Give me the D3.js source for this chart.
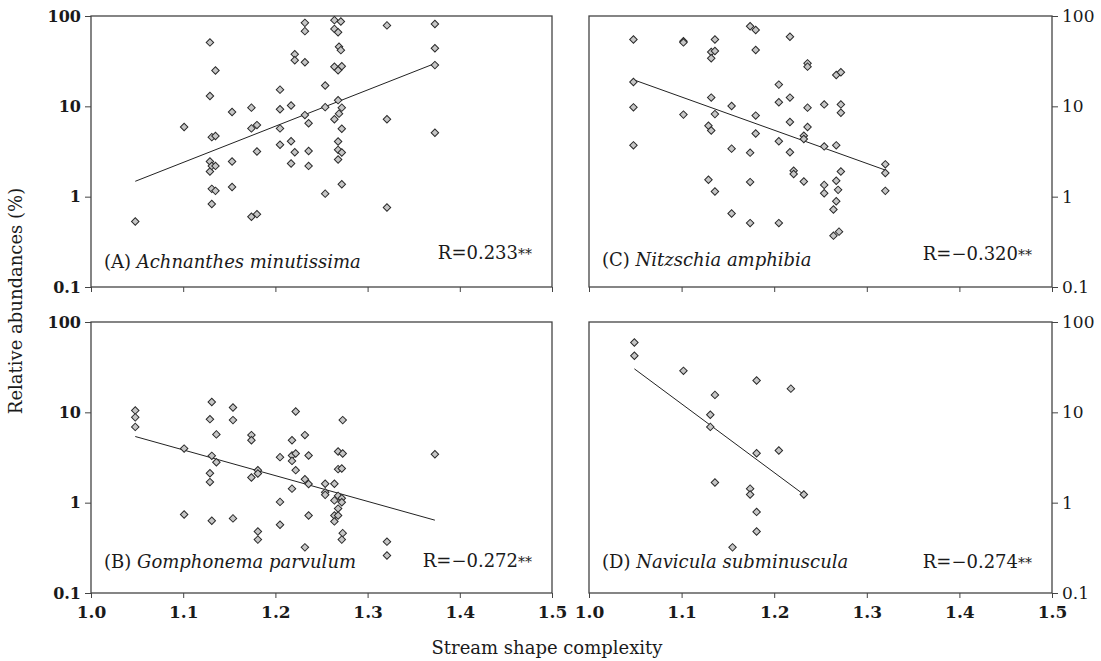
<!DOCTYPE html>
<html>
<head>
<meta charset="utf-8">
<script src="https://cdn.jsdelivr.net/npm/d3@7"></script>
<style>
  body { margin: 0; background: #fff; }
  svg text { font-family: "DejaVu Serif", serif; fill: #1a1a1a; }
  .tick line, .domain { stroke: #444; }
</style>
</head>
<body>
<div id="chart"></div>
<script>
////////////////////////////////////////////////////////////////////
////////////////////////////  Data  ////////////////////////////////

// [stream shape complexity, relative abundance %]
const ptsA = [[1.048,0.53],[1.101,5.9],[1.129,51],[1.135,24.9],[1.129,13.0],[1.131,4.56],[1.135,4.7],
  [1.129,2.45],[1.129,1.9],[1.131,2.19],[1.135,2.19],[1.131,1.22],[1.135,1.16],[1.131,0.83],
  [1.153,8.65],[1.153,2.45],[1.153,1.28],[1.174,9.67],[1.174,5.7],[1.180,6.2],[1.180,3.16],
  [1.174,0.6],[1.180,0.64],[1.205,15.3],[1.205,9.3],[1.205,5.7],[1.205,3.75],[1.217,10.2],
  [1.217,4.1],[1.221,37.8],[1.221,32.4],[1.221,3.1],[1.217,2.33],[1.232,84],[1.232,68],
  [1.232,30.8],[1.232,8.0],[1.236,6.5],[1.236,3.2],[1.236,2.19],[1.254,17],[1.254,9.8],
  [1.254,1.08],[1.264,90],[1.271,87],[1.264,72],[1.268,66],[1.269,45.6],[1.271,41.9],
  [1.264,27.4],[1.272,27.8],[1.268,25.1],[1.268,11.7],[1.272,9.67],[1.269,8.3],[1.264,7.2],
  [1.272,5.65],[1.268,4.08],[1.268,3.3],[1.272,3.08],[1.268,2.58],[1.272,1.37],[1.321,78.7],
  [1.321,7.2],[1.321,0.76],[1.373,81.5],[1.373,44],[1.373,28.6],[1.373,5.1]];

const ptsB = [[1.048,10.5],[1.048,8.8],[1.048,6.9],[1.101,3.97],[1.101,0.74],[1.131,13],[1.129,8.4],
  [1.136,5.7],[1.131,3.3],[1.136,2.8],[1.129,2.12],[1.129,1.69],[1.131,0.63],[1.154,11.3],
  [1.154,8.2],[1.154,0.67],[1.174,5.6],[1.174,4.9],[1.181,2.29],[1.181,2.1],[1.174,1.9],
  [1.181,0.48],[1.181,0.39],[1.205,3.19],[1.205,1.02],[1.205,0.57],[1.222,10.2],[1.218,4.9],
  [1.218,3.33],[1.218,2.9],[1.222,3.5],[1.222,2.29],[1.218,1.43],[1.232,5.6],[1.236,3.33],
  [1.232,1.82],[1.236,1.61],[1.236,0.72],[1.232,0.32],[1.254,1.62],[1.254,1.3],[1.254,1.22],
  [1.264,1.62],[1.264,1.06],[1.264,0.72],[1.264,0.62],[1.268,3.68],[1.273,3.5],[1.268,2.35],
  [1.272,2.39],[1.268,1.19],[1.272,1.12],[1.272,1.01],[1.268,0.86],[1.268,0.72],[1.273,8.2],
  [1.273,0.46],[1.272,0.39],[1.321,0.37],[1.321,0.26],[1.373,3.44]];

const ptsC = [[1.048,55],[1.048,18.6],[1.048,9.75],[1.048,3.7],[1.102,52.5],[1.102,51],[1.102,8.1],
  [1.136,55],[1.132,39.9],[1.136,41],[1.132,34],[1.132,12.5],[1.136,8.2],[1.129,6.1],[1.132,5.4],
  [1.129,1.54],[1.136,1.14],[1.154,10.1],[1.154,3.4],[1.154,0.65],[1.174,77],[1.180,70],
  [1.180,42],[1.180,7.9],[1.180,5.0],[1.174,3.07],[1.174,1.45],[1.174,0.51],[1.205,17.4],
  [1.205,11.1],[1.205,4.1],[1.205,0.51],[1.217,59],[1.217,12.5],[1.217,6.7],[1.217,3.1],
  [1.221,1.94],[1.221,1.78],[1.236,29.9],[1.236,27.5],[1.236,9.67],[1.236,5.9],[1.232,4.73],
  [1.232,4.35],[1.232,1.47],[1.254,10.5],[1.254,3.6],[1.254,1.35],[1.254,1.09],[1.267,22.2],
  [1.272,23.8],[1.272,10.5],[1.272,8.5],[1.267,3.7],[1.272,1.9],[1.267,1.5],[1.269,1.19],
  [1.267,0.89],[1.264,0.72],[1.264,0.37],[1.270,0.41],[1.320,2.28],[1.320,1.83],[1.320,1.16]];

const ptsD = [[1.049,59.4],[1.049,42.3],[1.102,28.8],[1.136,15.6],[1.131,9.4],[1.131,6.9],
  [1.136,1.67],[1.155,0.32],[1.181,22.5],[1.181,3.53],[1.174,1.43],[1.174,1.23],[1.181,0.79],
  [1.181,0.48],[1.205,3.78],[1.218,18.3],[1.232,1.23]];

// regression lines (end points)
const fitA = [[1.048,1.48],[1.373,29.8]];
const fitB = [[1.048,5.4],[1.373,0.64]];
const fitC = [[1.048,19.7],[1.320,1.97]];
const fitD = [[1.049,30.3],[1.232,1.23]];

const xTicks = [1.0, 1.1, 1.2, 1.3, 1.4, 1.5];
const yTicks = [0.1, 1, 10, 100];

const species = ["Achnanthes minutissima", "Gomphonema parvulum", "Nitzschia amphibia", "Navicula subminuscula"];
const letters = ["A", "B", "C", "D"];
const rLabels = ["R=0.233", "R=\u22120.272", "R=\u22120.320", "R=\u22120.274"];

////////////////////////////////////////////////////////////////////
////////////////////////////  Layout  //////////////////////////////

const width = 1101, height = 661;
const cols = [[91, 552], [589, 1052]];
const rows = [[16, 287], [322, 593]];

const svg = d3.select("#chart").append("svg")
  .attr("width", width).attr("height", height);

const panels = [
  { pts: ptsA, fit: fitA, col: 0, row: 0, spDy: 19, rDy: 28 },
  { pts: ptsB, fit: fitB, col: 0, row: 1, spDy: 25, rDy: 26 },
  { pts: ptsC, fit: fitC, col: 1, row: 0, spDy: 21, rDy: 27 },
  { pts: ptsD, fit: fitD, col: 1, row: 1, spDy: 25, rDy: 25 }
];

const marker = d3.symbol().type(d3.symbolSquare).size(28);

panels.forEach((p, i) => {
  const [x0, x1] = cols[p.col];
  const [y0, y1] = rows[p.row];

  const xScale = d3.scaleLinear().domain([1.0, 1.5]).range([x0, x1]);
  const yScale = d3.scaleLog().domain([0.1, 100]).range([y1, y0]);

  const g = svg.append("g");

  // frame
  g.append("rect")
    .attr("x", x0).attr("y", y0)
    .attr("width", x1 - x0).attr("height", y1 - y0)
    .attr("fill", "none")
    .attr("stroke", "#444")
    .attr("stroke-width", 1.3);

  // x axis
  const xAxis = d3.axisBottom(xScale)
    .tickValues(xTicks)
    .tickSize(5)
    .tickSizeOuter(0)
    .tickPadding(8)
    .tickFormat(p.row === 1 ? d3.format(".1f") : () => "");

  const gx = g.append("g")
    .attr("transform", `translate(0, ${y1})`)
    .call(xAxis);
  gx.select(".domain").remove();
  gx.selectAll("text")
    .style("font-size", "17px")
    .style("font-weight", "bold")
    .attr("fill", "#1a1a1a");

  // y axis
  const yAxis = (p.col === 0 ? d3.axisLeft(yScale) : d3.axisRight(yScale))
    .tickValues(yTicks)
    .tickSize(6)
    .tickSizeOuter(0)
    .tickPadding(4)
    .tickFormat((d) => (d < 1 ? "0.1" : d3.format("d")(d)));

  const gy = g.append("g")
    .attr("transform", `translate(${p.col === 0 ? x0 : x1}, 0)`)
    .call(yAxis);
  gy.select(".domain").remove();
  gy.selectAll("text")
    .style("font-size", p.col === 0 ? "16px" : "17px")
    .style("font-weight", p.col === 0 ? "bold" : "normal")
    .attr("fill", "#1a1a1a");

  // regression line
  g.append("path")
    .datum(p.fit)
    .attr("d", d3.line().x((d) => xScale(d[0])).y((d) => yScale(d[1])))
    .attr("fill", "none")
    .attr("stroke", "#222")
    .attr("stroke-width", 1);

  // points
  g.selectAll(".pt")
    .data(p.pts)
    .join("path")
    .attr("class", "pt")
    .attr("d", marker)
    .attr("transform", (d) => `translate(${xScale(d[0])}, ${yScale(d[1])}) rotate(45)`)
    .attr("fill", "#c6c6c6")
    .attr("stroke", "#2a2a2a")
    .attr("stroke-width", 1);

  // species label
  const lab = g.append("text")
    .attr("x", x0 + 13)
    .attr("y", y1 - p.spDy)
    .style("font-size", "18px");
  lab.append("tspan").text(`(${letters[i]}) `);
  lab.append("tspan").style("font-style", "italic").text(species[i]);

  // R label
  const rl = g.append("text")
    .attr("x", x1 - 20)
    .attr("y", y1 - p.rDy)
    .attr("text-anchor", "end")
    .style("font-size", "18px");
  rl.append("tspan").text(rLabels[i]);
  rl.append("tspan").style("font-size", "14px").text("**");
});

// axis titles
svg.append("text")
  .attr("x", 547)
  .attr("y", 654)
  .attr("text-anchor", "middle")
  .style("font-size", "18px")
  .text("Stream shape complexity");

svg.append("text")
  .attr("transform", "translate(22, 301) rotate(-90)")
  .attr("text-anchor", "middle")
  .style("font-size", "18px")
  .text("Relative abundances (%)");
</script>
</body>
</html>
